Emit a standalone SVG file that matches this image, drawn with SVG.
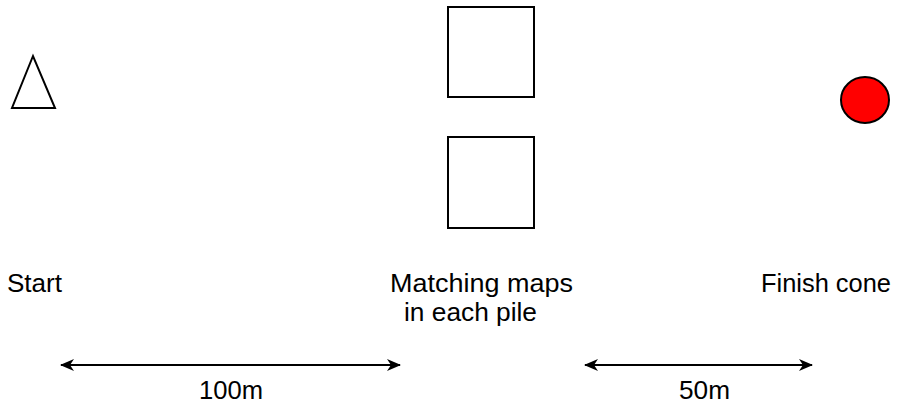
<svg xmlns="http://www.w3.org/2000/svg" width="898" height="403" viewBox="0 0 898 403">
  <style>
    .shape { fill: #ffffff; stroke: #000000; stroke-width: 2; }
    .cone { fill: #ff0000; stroke: #000000; stroke-width: 2; }
    .label { font-family: "Liberation Sans", Arial, sans-serif; font-size: 25px; fill: #000000; }
    .dim { stroke: #000000; stroke-width: 2; fill: none; marker-start: url(#head); marker-end: url(#head); }
  </style>
  <defs>
    <marker id="head" viewBox="0 0 14 12" refX="13" refY="6" markerWidth="14" markerHeight="12" markerUnits="userSpaceOnUse" orient="auto-start-reverse">
      <path d="M0,0 L14,6 L0,12 L4,6 Z" fill="#000000"/>
    </marker>
  </defs>
  <rect width="898" height="403" fill="#ffffff"/>

  <g id="start">
    <polygon class="shape" points="33,56 12,108 55,108"/>
    <text class="label" x="7" y="292" textLength="55" lengthAdjust="spacingAndGlyphs">Start</text>
  </g>

  <g id="map-piles">
    <rect class="shape" x="448" y="7" width="86" height="90"/>
    <rect class="shape" x="448" y="137" width="86" height="91"/>
    <text class="label" x="390" y="292" textLength="183" lengthAdjust="spacingAndGlyphs">Matching maps</text>
    <text class="label" x="404" y="321" textLength="133" lengthAdjust="spacingAndGlyphs">in each pile</text>
  </g>

  <g id="finish">
    <ellipse class="cone" cx="865" cy="100" rx="24" ry="23"/>
    <text class="label" x="761" y="292" textLength="130" lengthAdjust="spacingAndGlyphs">Finish cone</text>
  </g>

  <g id="connectors">
    <line class="dim" x1="61" y1="365" x2="400" y2="365"/>
    <line class="dim" x1="585" y1="365" x2="812" y2="365"/>
    <text class="label" x="199" y="399" textLength="64" lengthAdjust="spacingAndGlyphs">100m</text>
    <text class="label" x="679" y="399" textLength="51" lengthAdjust="spacingAndGlyphs">50m</text>
  </g>
</svg>
